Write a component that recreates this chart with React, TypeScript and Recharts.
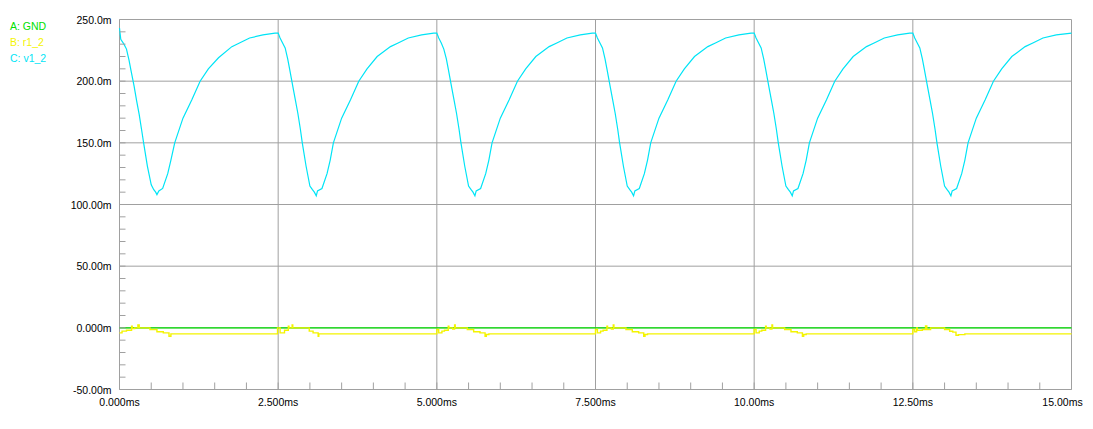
import React from "react"
import { CartesianGrid, Line, LineChart, XAxis, YAxis } from "recharts"

// time in ms, value in mV
const gndPoints: [number, number][] = [[0, 0], [15, 0]]

const r12Points: [number, number][] = [
  [0, -4.1], [0.04, -2.7], [0.11, -1.9], [0.19, 1.3], [0.2, -0.6], [0.24, 0], [0.29, 2.4], [0.31, 0],
  [0.48, -1.4], [0.59, -3.2], [0.69, -4.1], [0.78, -6.8], [0.81, -4.9],
  [2.49, 0], [2.53, -4.1], [2.6, -1.9], [2.66, 1.3], [2.67, 0], [2.72, 2.4], [2.73, 0],
  [2.99, -2.7], [3.05, -4.1], [3.13, -6.8], [3.14, -4.9],
  [5.0, -1.4], [5.03, -4.1], [5.08, -2.7], [5.12, -1.9], [5.18, 1.3], [5.19, 0], [5.25, -1.0], [5.28, 2.4], [5.29, 0],
  [5.48, -1.4], [5.58, -3.2], [5.68, -4.1], [5.76, -6.8], [5.78, -5.4], [5.82, -4.9],
  [7.5, -1.4], [7.53, -4.1], [7.58, -2.7], [7.62, -1.9], [7.68, 1.3], [7.69, 0], [7.75, -1.0], [7.78, 2.4], [7.79, 0],
  [7.98, -1.4], [8.08, -3.2], [8.18, -4.1], [8.26, -6.8], [8.28, -5.4], [8.32, -4.9],
  [10.0, -1.4], [10.03, -4.1], [10.08, -2.7], [10.12, -1.9], [10.18, 1.3], [10.19, 0], [10.25, -1.0], [10.28, 2.4], [10.29, 0],
  [10.48, -1.4], [10.58, -3.2], [10.68, -4.1], [10.76, -6.8], [10.78, -5.4], [10.82, -4.9],
  [12.5, -1.4], [12.53, -3.2], [12.56, 0], [12.57, -2.0], [12.65, -1.4], [12.7, 1.5], [12.72, -1.4], [12.78, 0],
  [13.0, -1.4], [13.08, -2.8], [13.13, -3.5], [13.18, -6.0], [13.22, -5.5], [13.32, -4.9],
  [15.0, -4.9],
]

const v12Points: [number, number][] = [
  [0, 243], [0.02, 234], [0.07, 230], [0.11, 226], [0.15, 217], [0.18, 209], [0.23, 196], [0.27, 184],
  [0.31, 173], [0.35, 160], [0.38, 150], [0.44, 131], [0.5, 116], [0.54, 112], [0.57, 110], [0.59, 108],
  [0.62, 111], [0.68, 113], [0.76, 125], [0.81, 136], [0.87, 150], [1.0, 170], [1.14, 185], [1.27, 200],
  [1.4, 210], [1.56, 219], [1.77, 228], [1.89, 231], [2.05, 235], [2.26, 237.5], [2.45, 239],
  [2.5, 239], [2.53, 235], [2.57, 231], [2.61, 227], [2.65, 218], [2.68, 210], [2.73, 196], [2.77, 185],
  [2.81, 174], [2.85, 161], [2.88, 150], [2.94, 131], [3.0, 115], [3.04, 112], [3.07, 110], [3.1, 107],
  [3.12, 111], [3.19, 113], [3.27, 125], [3.32, 136], [3.37, 150], [3.5, 170], [3.64, 185], [3.77, 200],
  [3.9, 210], [4.06, 220], [4.27, 228], [4.39, 231], [4.55, 235], [4.76, 237.5], [4.95, 239],
  [5.0, 239], [5.03, 235], [5.07, 231], [5.11, 226], [5.15, 218], [5.18, 210], [5.23, 196], [5.27, 185],
  [5.31, 174], [5.35, 161], [5.38, 150], [5.44, 131], [5.5, 115], [5.54, 112], [5.57, 110], [5.6, 107],
  [5.62, 111], [5.69, 113], [5.77, 125], [5.82, 136], [5.87, 150], [6.0, 170], [6.14, 185], [6.27, 200],
  [6.4, 210], [6.56, 220], [6.77, 228], [6.89, 231], [7.05, 235], [7.26, 237.5], [7.45, 239],
  [7.5, 239], [7.53, 235], [7.57, 231], [7.61, 227], [7.65, 218], [7.68, 210], [7.73, 196], [7.77, 185],
  [7.81, 174], [7.85, 161], [7.88, 150], [7.94, 131], [8.0, 115], [8.04, 112], [8.07, 110], [8.1, 107],
  [8.12, 111], [8.19, 113], [8.27, 125], [8.32, 136], [8.37, 150], [8.5, 170], [8.64, 185], [8.77, 200],
  [8.9, 210], [9.06, 220], [9.27, 228], [9.39, 231], [9.55, 235], [9.76, 237.5], [9.95, 239],
  [10.0, 239], [10.03, 235], [10.07, 231], [10.11, 227], [10.15, 218], [10.18, 210], [10.23, 196], [10.27, 185],
  [10.31, 174], [10.35, 161], [10.38, 150], [10.44, 131], [10.5, 115], [10.54, 112], [10.57, 110], [10.6, 107],
  [10.62, 111], [10.69, 113], [10.77, 125], [10.82, 136], [10.87, 150], [11.0, 170], [11.14, 185], [11.27, 200],
  [11.4, 210], [11.56, 220], [11.77, 228], [11.89, 231], [12.05, 235], [12.26, 237.5], [12.45, 239],
  [12.5, 239], [12.53, 235], [12.57, 231], [12.61, 227], [12.65, 218], [12.68, 210], [12.73, 196], [12.77, 185],
  [12.81, 174], [12.85, 161], [12.88, 150], [12.94, 131], [13.0, 115], [13.04, 112], [13.07, 110], [13.1, 107],
  [13.12, 111], [13.19, 113], [13.27, 125], [13.32, 136], [13.37, 150], [13.5, 170], [13.64, 185], [13.77, 200],
  [13.9, 210], [14.06, 220], [14.27, 228], [14.39, 231], [14.55, 235], [14.76, 237.5], [15.0, 239],
]

const xMajor = [0, 2.5, 5, 7.5, 10, 12.5, 15]
const xLabels = ["0.000ms", "2.500ms", "5.000ms", "7.500ms", "10.00ms", "12.50ms", "15.00ms"]
const yMajor = [-50, 0, 50, 100, 150, 200, 250]
const yLabels = ["-50.00m", "0.000m", "50.00m", "100.00m", "150.0m", "200.0m", "250.0m"]

const xMinor = Array.from({ length: 31 }, (_, i) => i * 0.5)
const yMinor = Array.from({ length: 31 }, (_, i) => -50 + i * 10)

const gridColor = "#a0a0a0"
const font = "'Liberation Sans', Arial, sans-serif"

const series = [
  { name: "A: GND", color: "#00e000", points: gndPoints, type: "linear" as const, width: 1.4 },
  { name: "B: r1_2", color: "#f4f400", points: r12Points, type: "stepAfter" as const, width: 1.4 },
  { name: "C: v1_2", color: "#00e4f6", points: v12Points, type: "linear" as const, width: 1.2 },
]

const XTick = (props: any) => {
  const { x, y, payload } = props
  const i = xMajor.indexOf(payload.value)
  return (
    <g>
      <line x1={x} y1={y} x2={x} y2={y - 7} stroke={gridColor} />
      {i >= 0 && (
        <text x={x} y={y + 16} dx={i === xMajor.length - 1 ? -9 : 0} textAnchor="middle"
          fill="#000" fontSize={10.5} fontFamily={font}>
          {xLabels[i]}
        </text>
      )}
    </g>
  )
}

const YTick = (props: any) => {
  const { x, y, payload } = props
  const i = yMajor.indexOf(payload.value)
  return (
    <g>
      <line x1={x} y1={y} x2={x + 6} y2={y} stroke={gridColor} />
      {i >= 0 && (
        <text x={x - 8} y={y + 4} textAnchor="end" fill="#000" fontSize={10.5} fontFamily={font}>
          {yLabels[i]}
        </text>
      )}
    </g>
  )
}

export default function App() {
  return (
    <div style={{ position: "relative", width: 1077, height: 413, background: "#fff" }}>
      <LineChart width={1077} height={413} margin={{ top: 11.5, right: 13.5, bottom: 0, left: 0 }}>
        <CartesianGrid stroke={gridColor} horizontalValues={yMajor} verticalValues={xMajor} />
        <XAxis dataKey="t" type="number" domain={[0, 15]} ticks={xMinor} interval={0}
          axisLine={false} tickLine={false} tickSize={0} tickMargin={0} height={31.5} tick={<XTick />} />
        <YAxis type="number" domain={[-50, 250]} ticks={yMinor} interval={0} allowDataOverflow
          axisLine={false} tickLine={false} tickSize={0} tickMargin={0} width={111.5} tick={<YTick />} />
        {series.map(s => (
          <Line key={s.name} data={s.points.map(([t, v]) => ({ t, v }))} dataKey="v" type={s.type}
            stroke={s.color} strokeWidth={s.width} dot={false} activeDot={false} isAnimationActive={false} />
        ))}
      </LineChart>
      <div style={{ position: "absolute", left: 2, top: 10, fontFamily: font, fontSize: 10.5, lineHeight: "16px" }}>
        {series.map(s => (
          <div key={s.name} style={{ color: s.color }}>{s.name}</div>
        ))}
      </div>
    </div>
  )
}
